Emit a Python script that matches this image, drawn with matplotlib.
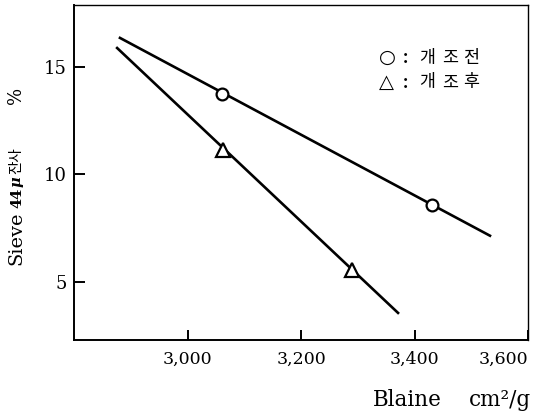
import matplotlib
matplotlib.use("Agg")
import matplotlib.pyplot as plt

# fitted lines (Blaine cm2/g vs sieve 44 residue %)
before_line_x = [2881, 3533]
before_line_y = [16.35, 7.15]
after_line_x = [2876, 3371]
after_line_y = [15.88, 3.56]

# measured points
before_x = [3060, 3430]
before_y = [13.74, 8.58]
after_x = [3062, 3289]
after_y = [11.14, 5.56]

xticks = [3000, 3200, 3400, 3600]
xtick_labels = ["3,000", "3,200", "3,400", "3,600"]
yticks = [5, 10, 15]

W, H = 535, 412
fig = plt.figure(figsize=(W / 100, H / 100), dpi=100)
ax = fig.add_axes([74 / W, (H - 340) / H, 454 / W, 335 / H])

ax.plot(before_line_x, before_line_y, color="black", lw=1.9, zorder=2)
ax.plot(after_line_x, after_line_y, color="black", lw=1.9, zorder=2)
ax.plot(before_x, before_y, "o", ms=8.5, mfc="white", mec="black", mew=1.6, zorder=3)
ax.plot(after_x, after_y, "^", ms=10.5, mfc="white", mec="black", mew=1.6, zorder=3)

ax.set_xlim(2800, 3600)
ax.set_ylim(2.30, 17.88)
ax.set_xticks(xticks)
ax.set_xticklabels(xtick_labels, family="DejaVu Serif", fontsize=12.5)
ax.set_yticks(yticks)
ax.set_yticklabels([str(v) for v in yticks], family="DejaVu Serif", fontsize=13)
ax.get_xticklabels()[-1].set_ha("right")
ax.tick_params(axis="x", direction="in", length=7, width=1.4, pad=8)
ax.tick_params(axis="y", direction="in", length=8, width=1.4, pad=5)
for s in ["left", "bottom"]:
    ax.spines[s].set_linewidth(1.4)
for s in ["top", "right"]:
    ax.spines[s].set_linewidth(1.0)


def px(x, y):
    return x / W, 1 - y / H


# y axis label, in pieces
fig.text(*px(16, 238), "Sieve", rotation=90, ha="center", va="center",
         family="DejaVu Serif", fontsize=14)
fig.text(*px(17, 198), "44", rotation=90, ha="center", va="center",
         family="DejaVu Serif", fontsize=10.5, fontweight="bold")
fig.text(*px(17, 182), "μ", rotation=90, ha="center", va="center",
         family="DejaVu Serif", fontsize=10.5, fontweight="bold", style="italic")
fig.text(*px(16, 161), "잔사", rotation=90, ha="center", va="center",
         family=["Noto Sans CJK KR", "DejaVu Sans"], fontsize=10.5)
fig.text(*px(16, 95), "%", rotation=90, ha="center", va="center",
         family="DejaVu Serif", fontsize=13)

# x axis label
fig.text(*px(407, 400), "Blaine", ha="center", va="center",
         family="DejaVu Serif", fontsize=15.5)
fig.text(*px(500, 400), "cm²/g", ha="center", va="center",
         family="DejaVu Serif", fontsize=15.5)

# legend drawn as text
kfont = ["Noto Sans CJK KR", "DejaVu Sans"]
fig.text(*px(387.5, 57), "○", ha="center", va="center", family="DejaVu Sans", fontsize=14)
fig.text(*px(386, 82), "△", ha="center", va="center", family="DejaVu Sans", fontsize=14)
for yy, chars in [(58, "개조전"), (82.5, "개조후")]:
    fig.text(*px(405, yy), ":", ha="center", va="center", family=kfont, fontsize=12, fontweight="bold")
    for xx, ch in zip([427, 450, 471], chars):
        fig.text(*px(xx, yy), ch, ha="center", va="center", family=kfont, fontsize=12.5)

fig.savefig("out.png", dpi=100)
